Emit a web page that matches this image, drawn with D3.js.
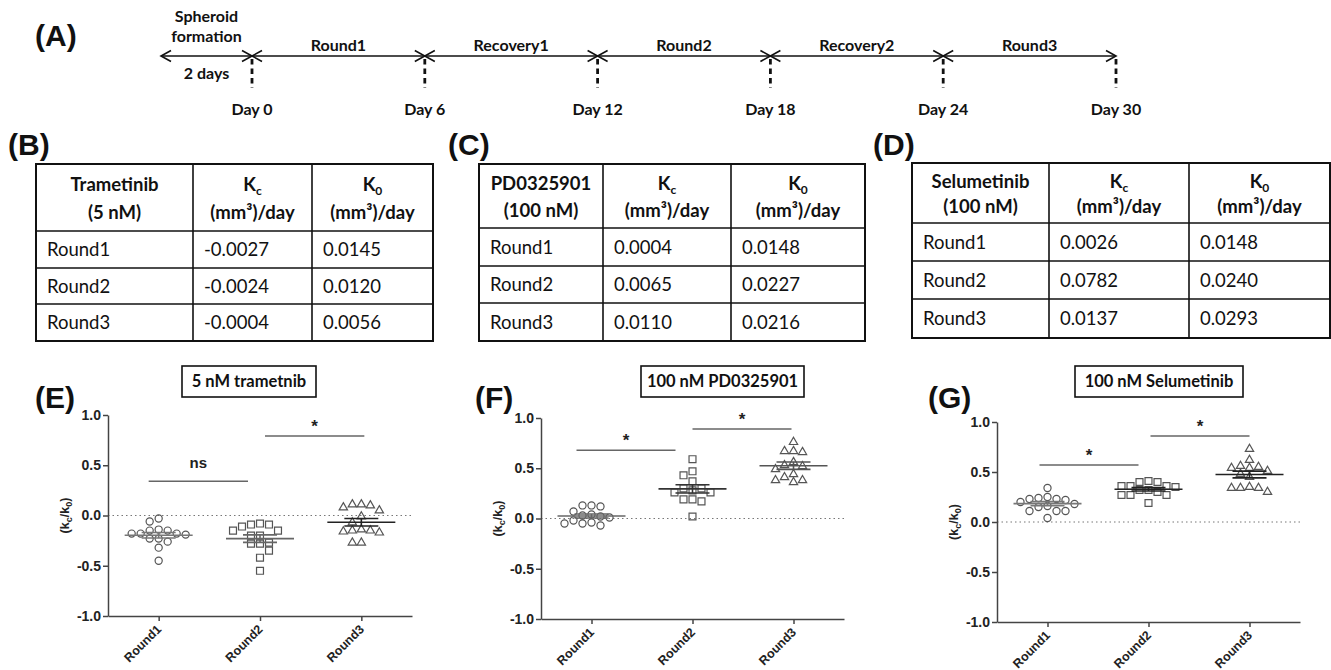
<!DOCTYPE html>
<html><head><meta charset="utf-8">
<script src="https://cdn.jsdelivr.net/npm/d3@7"></script>
<style>body{margin:0;background:#fff} svg{display:block}</style>
</head><body><svg id="c" width="1331" height="670"></svg>
<script>
// ---------------- DATA ----------------
const timelineDays = [0, 6, 12, 18, 24, 30];
const timelinePhases = ["Round1", "Recovery1", "Round2", "Recovery2", "Round3"];
const preFormationLabel = ["Spheroid", "formation"];
const preFormationDuration = "2 days";

const tableRounds = ["Round1", "Round2", "Round3"];
const trametinibKc = ["-0.0027", "-0.0024", "-0.0004"];
const trametinibK0 = ["0.0145", "0.0120", "0.0056"];
const pdKc = ["0.0004", "0.0065", "0.0110"];
const pdK0 = ["0.0148", "0.0227", "0.0216"];
const selumetinibKc = ["0.0026", "0.0782", "0.0137"];
const selumetinibK0 = ["0.0148", "0.0240", "0.0293"];

const groups = ["Round1", "Round2", "Round3"];
const yTicks = [-1.0, -0.5, 0.0, 0.5, 1.0];

const trametinibR1 = [-0.03,-0.06,-0.14,-0.15,-0.15,-0.18,-0.19,-0.18,-0.18,-0.23,-0.23,-0.26,-0.32,-0.45];
const trametinibR2 = [-0.08,-0.09,-0.09,-0.11,-0.15,-0.15,-0.20,-0.20,-0.27,-0.28,-0.28,-0.35,-0.42,-0.55];
const trametinibR3 = [0.11,0.11,0.10,0.08,0.05,-0.01,-0.07,-0.14,-0.15,-0.15,-0.16,-0.17,-0.27,-0.27];

const pdR1 = [0.13,0.13,0.12,0.07,0.04,0.03,0.02,0.01,-0.02,-0.04,-0.05,-0.05,-0.07];
const pdR2 = [0.59,0.47,0.43,0.37,0.30,0.30,0.28,0.26,0.26,0.19,0.19,0.17,0.02];
const pdR3 = [0.76,0.67,0.67,0.66,0.56,0.53,0.52,0.49,0.44,0.41,0.38,0.38,0.36];

const selR1 = [0.34,0.25,0.24,0.23,0.23,0.22,0.20,0.18,0.16,0.15,0.11,0.11,0.11,0.04];
const selR2 = [0.41,0.40,0.40,0.36,0.36,0.36,0.35,0.32,0.32,0.30,0.27,0.27,0.27,0.19];
const selR3 = [0.73,0.62,0.56,0.55,0.54,0.54,0.51,0.48,0.45,0.35,0.34,0.34,0.34,0.30];

const trametinibSig = [{from:0, to:1, text:"ns", y:0.34}, {from:1, to:2, text:"*", y:0.79}];
const pdSig = [{from:0, to:1, text:"*", y:0.68}, {from:1, to:2, text:"*", y:0.89}];
const selSig = [{from:0, to:1, text:"*", y:0.57}, {from:1, to:2, text:"*", y:0.86}];

// ---------------- DRAW ----------------
const svg = d3.select("#c");
const LATO = "Lato, 'Open Sans', sans-serif";
const ARIAL = "'Liberation Sans', Arial, sans-serif";

function panelLabel(txt, x, y) {
  svg.append("text").attr("x", x).attr("y", y).text(txt)
    .attr("font-family", ARIAL).attr("font-weight", "bold").attr("font-size", 30).attr("fill", "#111");
}

// ----- (A) timeline -----
panelLabel("(A)", 35, 46);
const tx = d3.scaleLinear().domain([d3.min(timelineDays), d3.max(timelineDays)]).range([252, 1116]);
const lineY = 56;
const preStart = tx(0) - 91;
const tl = svg.append("g").attr("stroke", "#111").attr("fill", "none");
const segs = [[preStart, tx(0)]].concat(d3.pairs(timelineDays).map(([a, b]) => [tx(a), tx(b)]));
segs.forEach(([a, b]) => {
  tl.append("line").attr("x1", a).attr("x2", b).attr("y1", lineY).attr("y2", lineY).attr("stroke-width", 1.6);
  tl.append("path").attr("d", `M${a + 10},${lineY - 5.5}L${a},${lineY}L${a + 10},${lineY + 5.5}`).attr("stroke-width", 1.6);
  tl.append("path").attr("d", `M${b - 10},${lineY - 5.5}L${b},${lineY}L${b - 10},${lineY + 5.5}`).attr("stroke-width", 1.6);
});
const tlText = (x, y, t) => svg.append("text").attr("x", x).attr("y", y).attr("text-anchor", "middle").text(t)
  .attr("font-family", LATO).attr("font-weight", "bold").attr("font-size", 16).attr("fill", "#111");
timelineDays.forEach(d => {
  tl.append("line").attr("x1", tx(d)).attr("x2", tx(d)).attr("y1", 59).attr("y2", 88)
    .attr("stroke-width", 2.8).attr("stroke-dasharray", "5.5,4");
  tlText(tx(d), 115, "Day " + d);
});
d3.pairs(timelineDays).forEach(([a, b], i) => tlText((tx(a) + tx(b)) / 2, 51, timelinePhases[i]));
const preMid = (preStart + tx(0)) / 2;
preFormationLabel.forEach((t, i) => tlText(preMid, 22 + i * 20, t));
tlText(preMid, 79, preFormationDuration);

// ----- (B)(C)(D) tables -----
const tables = [
  {label: "(B)", lx: 8, title: ["Trametinib", "(5 nM)"], kc: trametinibKc, k0: trametinibK0,
   cols: [36, 193, 312, 433], rows: [164, 231, 268, 304, 341]},
  {label: "(C)", lx: 448, title: ["PD0325901", "(100 nM)"], kc: pdKc, k0: pdK0,
   cols: [479, 603, 731, 865], rows: [164, 228, 266, 303, 341]},
  {label: "(D)", lx: 873, title: ["Selumetinib", "(100 nM)"], kc: selumetinibKc, k0: selumetinibK0,
   cols: [912, 1049, 1189, 1330], rows: [163, 223, 261, 299, 338]}
];
tables.forEach(t => {
  panelLabel(t.label, t.lx, 155);
  const g = svg.append("g");
  const [c0, c1, c2, c3] = t.cols;
  const r = t.rows;
  g.append("rect").attr("x", c0).attr("y", r[0]).attr("width", c3 - c0).attr("height", r[4] - r[0])
    .attr("fill", "none").attr("stroke", "#111").attr("stroke-width", 2);
  [c1, c2].forEach(c => g.append("line").attr("x1", c).attr("x2", c).attr("y1", r[0]).attr("y2", r[4])
    .attr("stroke", "#111").attr("stroke-width", 1.6));
  [r[1], r[2], r[3]].forEach(y => g.append("line").attr("x1", c0).attr("x2", c3).attr("y1", y).attr("y2", y)
    .attr("stroke", "#111").attr("stroke-width", 1.6));
  const h = r[1] - r[0];
  const l1 = r[0] + 0.30 * h + 6.5, l2 = r[0] + 0.73 * h + 6.5;
  const hdr = (x, y) => g.append("text").attr("x", x).attr("y", y).attr("text-anchor", "middle")
    .attr("font-family", LATO).attr("font-weight", "bold").attr("font-size", 18.5).attr("fill", "#111");
  hdr((c0 + c1) / 2, l1).text(t.title[0]);
  hdr((c0 + c1) / 2, l2).text(t.title[1]);
  [[(c1 + c2) / 2, "c"], [(c2 + c3) / 2, "0"]].forEach(([x, sub]) => {
    const k = hdr(x, l1);
    k.append("tspan").text("K");
    k.append("tspan").text(sub).attr("font-size", 12).attr("dy", 4);
    hdr(x, l2).text("(mm³)/day");
  });
  tableRounds.forEach((rd, i) => {
    const cy = (r[i + 1] + r[i + 2]) / 2 + 6.5;
    const cell = (x, txt) => g.append("text").attr("x", x).attr("y", cy).text(txt)
      .attr("font-family", LATO).attr("font-size", 18.5).attr("fill", "#111");
    cell(c0 + 11, rd);
    cell(c1 + 11, t.kc[i]);
    cell(c2 + 11, t.k0[i]);
  });
});

// ----- (E)(F)(G) scatter panels -----
const panels = [
  {label: "(E)", lx: 35, title: "5 nM trametnib", box: [182, 316], series: [trametinibR1, trametinibR2, trametinibR3],
   sig: trametinibSig, ax: 108, xr: 412, yb: 616, yt: 415, sigShift: [-10, 5], meanColors: ["#777", "#666", "#222"]},
  {label: "(F)", lx: 475, title: "100 nM PD0325901", box: [641, 804], series: [pdR1, pdR2, pdR3],
   sig: pdSig, ax: 541, xr: 844, yb: 619, yt: 418, sigShift: [-15, 0], meanColors: ["#666", "#333", "#555"]},
  {label: "(G)", lx: 928, title: "100 nM Selumetinib", box: [1075, 1243], series: [selR1, selR2, selR3],
   sig: selSig, ax: 997, xr: 1300, yb: 622, yt: 422, sigShift: [-8, 2], meanColors: ["#777", "#222", "#222"]}
];
const shapes = [d3.symbolCircle, d3.symbolSquare, d3.symbolTriangle];
const shapeSizes = [40, 48, 30];

function beeswarm(vals, y, step, minGap) {
  const placed = [];
  const order = vals.map((v, i) => i).sort((a, b) => vals[b] - vals[a]);
  const lanes = new Array(vals.length);
  const cand = [0, -1, 1, -2, 2, -3, 3, -4, 4, -5, 5];
  order.forEach(i => {
    const py = y(vals[i]);
    for (const c of cand) {
      if (!placed.some(p => p.lane === c && Math.abs(p.py - py) < minGap)) {
        placed.push({lane: c, py}); lanes[i] = c; break;
      }
    }
  });
  return lanes.map(l => l * step);
}

panels.forEach(p => {
  panelLabel(p.label, p.lx, 408);
  svg.append("rect").attr("x", p.box[0]).attr("y", 366).attr("width", p.box[1] - p.box[0]).attr("height", 31)
    .attr("fill", "none").attr("stroke", "#111").attr("stroke-width", 1.6);
  svg.append("text").attr("x", (p.box[0] + p.box[1]) / 2).attr("y", 387).attr("text-anchor", "middle").text(p.title)
    .attr("font-family", LATO).attr("font-weight", "bold").attr("font-size", 16.5).attr("fill", "#111");

  const y = d3.scaleLinear().domain([d3.min(yTicks), d3.max(yTicks)]).range([p.yb, p.yt]);
  const x = d3.scalePoint().domain(groups).range([p.ax, p.xr]).padding(0.5);
  const g = svg.append("g");

  g.append("line").attr("x1", p.ax).attr("x2", p.xr).attr("y1", y(0)).attr("y2", y(0))
    .attr("stroke", "#777").attr("stroke-width", 1).attr("stroke-dasharray", "1.5,3");

  const yAxis = g.append("g").attr("transform", `translate(${p.ax},0)`)
    .call(d3.axisLeft(y).tickValues(yTicks).tickFormat(d => d.toFixed(1)).tickSize(5).tickSizeOuter(0));
  const xAxis = g.append("g").attr("transform", `translate(0,${p.yb})`)
    .call(d3.axisBottom(x).tickSize(5).tickSizeOuter(0));
  [yAxis, xAxis].forEach(a => {
    a.selectAll("path,line").attr("stroke", "#444").attr("stroke-width", 1.5);
    a.selectAll("text").attr("font-family", ARIAL).attr("font-weight", "bold").attr("fill", "#222");
  });
  yAxis.selectAll("text").attr("font-size", 14).attr("x", -7);
  xAxis.selectAll("text").attr("font-size", 12.5).attr("y", 0).attr("dy", 0)
    .attr("text-anchor", "end").attr("transform", "translate(3,14) rotate(-45)");

  const yl = g.append("text").attr("transform", `translate(${p.ax - 39},${y(0)}) rotate(-90)`)
    .attr("text-anchor", "middle").attr("font-family", ARIAL).attr("font-weight", "bold")
    .attr("font-size", 12.5).attr("fill", "#222");
  yl.append("tspan").text("(k");
  yl.append("tspan").text("c").attr("font-size", 9).attr("dy", 3);
  yl.append("tspan").text("/k").attr("dy", -3);
  yl.append("tspan").text("0").attr("font-size", 9).attr("dy", 3);
  yl.append("tspan").text(")").attr("dy", -3);

  p.sig.forEach((s, i) => {
    const x1 = x(groups[s.from]) + p.sigShift[i], x2 = x(groups[s.to]) + p.sigShift[i] - 2;
    g.append("line").attr("x1", x1).attr("x2", x2).attr("y1", y(s.y)).attr("y2", y(s.y))
      .attr("stroke", "#666").attr("stroke-width", 1.5);
    g.append("text").attr("x", (x1 + x2) / 2).attr("y", y(s.y) - (s.text === "*" ? 4 : 13))
      .attr("text-anchor", "middle").text(s.text)
      .attr("font-family", ARIAL).attr("font-weight", "bold")
      .attr("font-size", s.text === "*" ? 17 : 15).attr("fill", "#222");
  });

  p.series.forEach((vals, gi) => {
    const cx = x(groups[gi]);
    const offs = beeswarm(vals, y, 9, 7.5);
    const sym = d3.symbol().type(shapes[gi]).size(shapeSizes[gi]);
    g.append("g").selectAll("path").data(vals).join("path")
      .attr("d", sym).attr("transform", (d, i) => `translate(${cx + offs[i]},${y(d)})`)
      .attr("fill", "none").attr("stroke", "#555").attr("stroke-width", 1.2);
    const m = d3.mean(vals), sem = d3.deviation(vals) / Math.sqrt(vals.length);
    const col = p.meanColors[gi];
    g.append("line").attr("x1", cx - 34).attr("x2", cx + 34).attr("y1", y(m)).attr("y2", y(m))
      .attr("stroke", col).attr("stroke-width", 1.6);
    [m - sem, m + sem].forEach(v => g.append("line").attr("x1", cx - 17).attr("x2", cx + 17)
      .attr("y1", y(v)).attr("y2", y(v)).attr("stroke", col).attr("stroke-width", 1.6));
    g.append("line").attr("x1", cx).attr("x2", cx).attr("y1", y(m - sem)).attr("y2", y(m + sem))
      .attr("stroke", col).attr("stroke-width", 1.6);
  });
});
</script></body></html>
